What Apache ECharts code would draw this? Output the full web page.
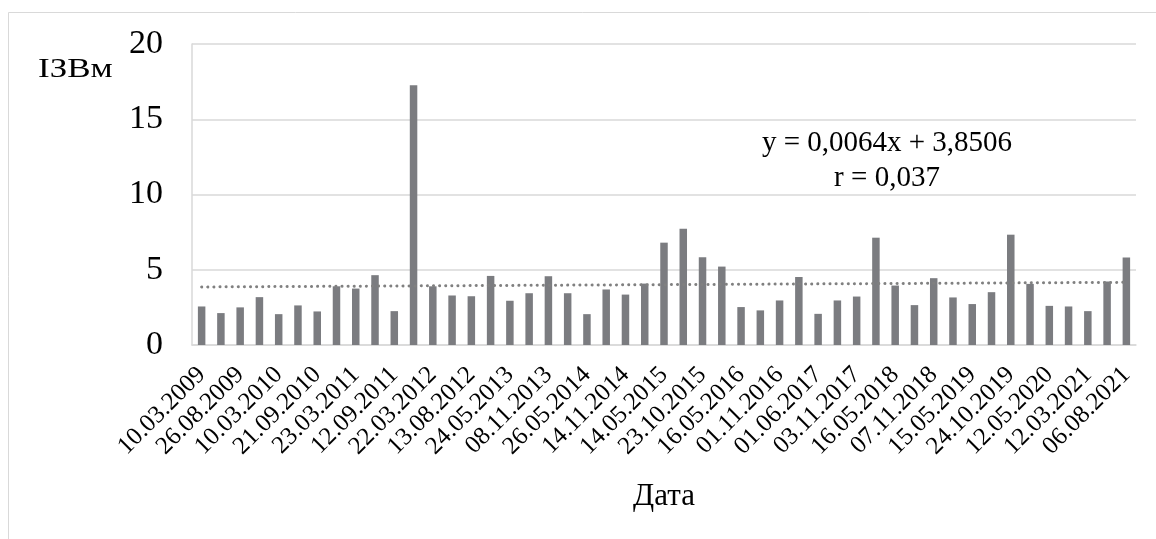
<!DOCTYPE html>
<html>
<head>
<meta charset="utf-8">
<script src="https://cdn.jsdelivr.net/npm/echarts@6/dist/echarts.min.js"></script>
<style>
html,body{margin:0;padding:0;background:#fff;}
#chart{width:1156px;height:539px;}
</style>
</head>
<body>
<div id="chart"></div>
<script>
// Categories: labelled dates (every second bar is labelled in the source; unlabelled ones left blank)
var dateLabels = [
  '10.03.2009','','26.08.2009','','10.03.2010','','21.09.2010','','23.03.2011','',
  '12.09.2011','','22.03.2012','','13.08.2012','','24.05.2013','','08.11.2013','',
  '26.05.2014','','14.11.2014','','14.05.2015','','23.10.2015','','16.05.2016','',
  '01.11.2016','','01.06.2017','','03.11.2017','','16.05.2018','','07.11.2018','',
  '15.05.2019','','24.10.2019','','12.05.2020','','12.03.2021','','06.08.2021'
];
var izvValues = [
  2.56, 2.12, 2.50, 3.18, 2.05, 2.63, 2.23, 3.90, 3.75, 4.64,
  2.25, 17.26, 3.90, 3.29, 3.24, 4.59, 2.94, 3.44, 4.57, 3.44,
  2.05, 3.69, 3.35, 4.08, 6.80, 7.73, 5.83, 5.21, 2.52, 2.30,
  2.96, 4.52, 2.07, 2.96, 3.22, 7.13, 3.95, 2.65, 4.44, 3.16,
  2.72, 3.51, 7.33, 4.06, 2.60, 2.56, 2.25, 4.22, 5.81
];
// Linear trend endpoints (y = 0,0064x + 3,8506 at first and last bar)
var trendStart = 3.857;
var trendEnd = 4.164;
var yTicks = { min: 0, max: 20, interval: 5 };
var equationText = ['y = 0,0064x + 3,8506', 'r = 0,037'];
var yName = 'ІЗВм';
var xName = 'Дата';

var trendData = dateLabels.map(function (d, i) {
  if (i === 0) return trendStart;
  if (i === dateLabels.length - 1) return trendEnd;
  return null;
});

var FONT = "'Liberation Serif','Times New Roman',serif";
var chart = echarts.init(document.getElementById('chart'), null, { renderer: 'canvas' });
chart.setOption({
  animation: false,
  backgroundColor: '#fff',
  grid: { left: 192, right: 20, top: 44, bottom: 194, containLabel: false },
  graphic: [
    { type: 'rect', shape: { x: 8.5, y: 12.5, width: 1160, height: 540 },
      style: { fill: 'none', stroke: '#d9d9d9', lineWidth: 1 }, silent: true },
    { type: 'text', x: 38, y: 56, scaleX: 1.25,
      style: { text: yName, font: '28px ' + FONT, fill: '#000' } },
    { type: 'text', x: 887, y: 126,
      style: { text: equationText.join('\n'), font: '29px ' + FONT, fill: '#000',
               align: 'center', lineHeight: 35 } }
  ],
  xAxis: {
    type: 'category',
    data: dateLabels,
    boundaryGap: true,
    name: xName,
    nameLocation: 'middle',
    nameGap: 136,
    nameTextStyle: { fontFamily: FONT, fontSize: 31, color: '#000' },
    axisLine: { show: true, lineStyle: { color: '#d9d9d9', width: 1.5 } },
    axisTick: { show: false },
    axisLabel: { interval: 0, rotate: 45, margin: 26, fontFamily: FONT, fontSize: 25, color: '#000' },
    splitLine: { show: false }
  },
  yAxis: {
    type: 'value',
    min: yTicks.min, max: yTicks.max, interval: yTicks.interval,
    axisLine: { show: true, lineStyle: { color: '#d9d9d9', width: 1.5 } },
    axisTick: { show: false },
    axisLabel: { margin: 29, fontFamily: FONT, fontSize: 34, color: '#000' },
    splitLine: { show: true, lineStyle: { color: '#d9d9d9', width: 1.5 } }
  },
  series: [
    {
      type: 'bar',
      data: izvValues,
      barWidth: 7.5,
      itemStyle: { color: '#7b7c80' }
    },
    {
      type: 'line',
      data: trendData,
      connectNulls: true,
      symbol: 'none',
      lineStyle: { color: '#808080', width: 3, type: [0.1, 6], cap: 'round' },
      z: 3
    }
  ]
});
</script>
</body>
</html>
